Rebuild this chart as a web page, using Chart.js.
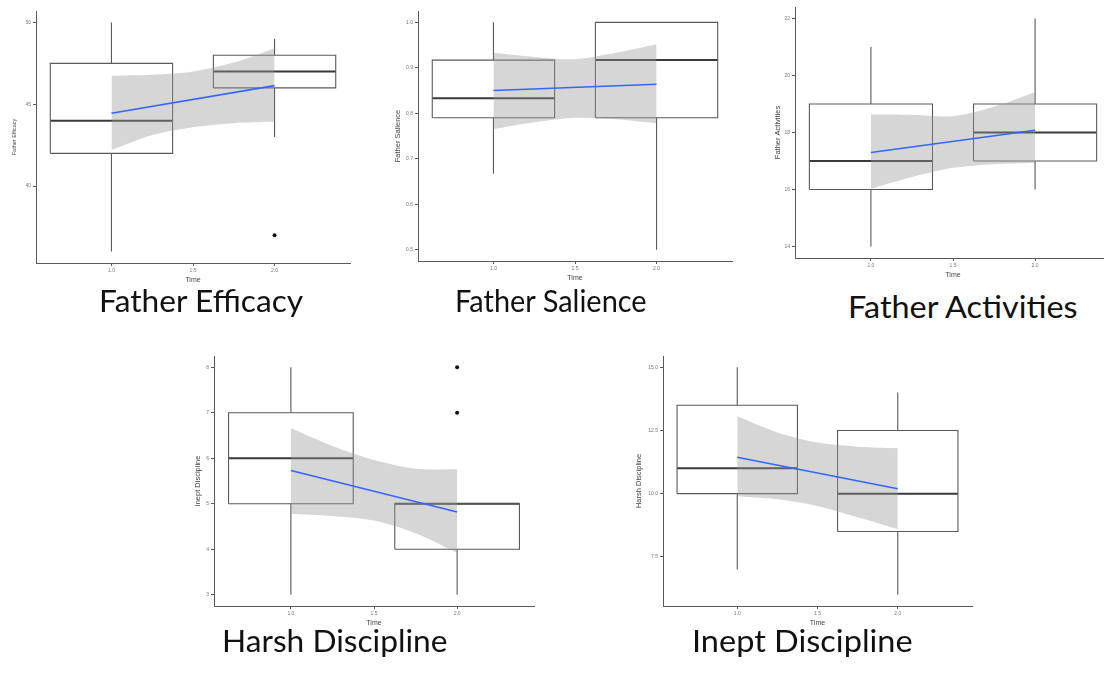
<!DOCTYPE html>
<html>
<head>
<meta charset="utf-8">
<script src="https://cdn.jsdelivr.net/npm/chart.js@4.4.0/dist/chart.umd.min.js"></script>
<style>
  html, body { margin: 0; padding: 0; background: #fff; overflow: hidden; width: 1104px; height: 673px; }
  #wrap { position: relative; width: 1104px; height: 673px; }
  #wrap canvas { position: absolute; }
  .cap { position: absolute; font-family: Lato, "Open Sans", sans-serif; font-size: 30px; line-height: 30px;
         color: #111; white-space: nowrap; transform-origin: left top; }
</style>
</head>
<body>
<div id="wrap"></div>
<script>
const panelNames = ["Father Efficacy", "Father Salience", "Father Activities", "Harsh Discipline", "Inept Discipline"];
const yTitles = ["Father Efficacy", "Father Salience", "Father Activities", "Inept Discipline", "Harsh Discipline"];
const xTitle = "Time";
const times = [1, 2];
const xTicks = [1.0, 1.5, 2.0];
const xRange = [0.5375, 2.4625];

const yTicks = [[40, 45, 50], [0.5, 0.6, 0.7, 0.8, 0.9, 1.0], [14, 16, 18, 20, 22], [3, 4, 5, 6, 7, 8], [7.5, 10, 12.5, 15]];
const yDigits = [0, 1, 0, 0, 1];
const yRanges = [[35.3, 50.7], [0.475, 1.025], [13.6, 22.4], [2.75, 8.25], [5.55, 15.45]];

const q1 = [[42, 46], [0.79, 0.79], [16, 17], [5, 4], [10, 8.5]];
const medians = [[44, 47], [0.833, 0.917], [17, 18], [6, 5], [11, 10]];
const q3 = [[47.5, 48], [0.917, 1.0], [19, 19], [7, 5], [13.5, 12.5]];
const whiskerLow = [[36, 43], [0.667, 0.5], [14, 16], [3, 3], [7, 6]];
const whiskerHigh = [[50, 49], [1.0, 1.0], [21, 22], [8, 5], [15, 14]];
const outliers = [[[2, 37]], [], [], [[2, 7], [2, 8]], []];

const fitY = [[44.45, 46.14], [0.85, 0.864], [17.3, 18.08], [5.73, 4.82], [11.44, 10.19]];
const bandX = [1, 1.25, 1.5, 1.75, 2];
const bandUpper = [
  [46.74, 46.8, 47.0, 47.55, 48.43],
  [0.933, 0.924, 0.919, 0.933, 0.952],
  [18.63, 18.62, 18.57, 18.9, 19.41],
  [6.66, 6.27, 5.96, 5.77, 5.76],
  [13.06, 12.42, 12.02, 11.86, 11.8]
];
const bandLower = [
  [42.2, 43.12, 43.6, 43.84, 43.94],
  [0.765, 0.78, 0.79, 0.787, 0.778],
  [16.03, 16.44, 16.76, 16.89, 16.93],
  [4.78, 4.73, 4.63, 4.35, 3.92],
  [9.9, 9.78, 9.51, 9.06, 8.59]
];

// plot area of each panel on the page: left, top, width, height, gap to y title, y title size
const areas = [
  [35.6, 11.3, 313.8, 251.5, 22, 5.5],
  [418.3, 11, 313.8, 250, 20, 7.5],
  [795, 6.9, 316, 250.5, 17, 7.5],
  [214.2, 356, 319.6, 250, 16, 7.5],
  [663.1, 356.4, 308.8, 249.6, 24, 7.5]
];
// caption centre x, baseline, width
const captions = [[201, 312, 204], [551, 312, 192], [963, 318, 230], [335, 652, 226], [802, 652, 221]];

const AW = 32, PT = 6, PR = 4, XH = 24;
const boxHalf = 0.375;
const smallFont = "'Liberation Sans', Arial, sans-serif";
const wrap = document.getElementById("wrap");

function seg(a, b, color, width, order) {
  return {
    type: "line", data: [a, b], borderColor: color, borderWidth: width,
    pointRadius: 0, tension: 0, fill: false, order: order
  };
}

function makeDatasets(i) {
  const ds = [];
  ds.push({
    type: "line",
    data: times.map((t, k) => ({x: t, y: fitY[i][k]})),
    borderColor: "#3366FF", borderWidth: 1.6, pointRadius: 0, fill: false, order: 0
  });
  ds.push({
    type: "line",
    data: outliers[i].map(p => ({x: p[0], y: p[1]})),
    showLine: false, pointRadius: 2, pointBackgroundColor: "#111", pointBorderWidth: 0, order: 0
  });
  const upperIndex = ds.length;
  ds.push({
    type: "line",
    data: bandX.map((x, k) => ({x: x, y: bandUpper[i][k]})),
    borderWidth: 0, pointRadius: 0, tension: 0.3,
    fill: {target: upperIndex + 1}, backgroundColor: "rgba(153,153,153,0.4)", order: 1
  });
  ds.push({
    type: "line",
    data: bandX.map((x, k) => ({x: x, y: bandLower[i][k]})),
    borderWidth: 0, pointRadius: 0, tension: 0.3, fill: false, order: 1
  });
  times.forEach((t, j) => {
    const a = t - boxHalf, b = t + boxHalf;
    ds.push({
      type: "line",
      data: [{x: a, y: q1[i][j]}, {x: b, y: q1[i][j]}, {x: b, y: q3[i][j]}, {x: a, y: q3[i][j]}, {x: a, y: q1[i][j]}],
      borderColor: "#5a5a5a", borderWidth: 1.1, pointRadius: 0, tension: 0, fill: false, order: 2
    });
    ds.push(seg({x: a, y: medians[i][j]}, {x: b, y: medians[i][j]}, "#3a3a3a", 2, 2));
    if (whiskerHigh[i][j] > q3[i][j]) {
      ds.push(seg({x: t, y: q3[i][j]}, {x: t, y: whiskerHigh[i][j]}, "#5a5a5a", 1.1, 3));
    }
    if (whiskerLow[i][j] < q1[i][j]) {
      ds.push(seg({x: t, y: whiskerLow[i][j]}, {x: t, y: q1[i][j]}, "#5a5a5a", 1.1, 3));
    }
  });
  return ds;
}

function makeChart(i) {
  const [L, T, W, H, gap, yFont] = areas[i];
  const canvas = document.createElement("canvas");
  const cw = Math.round(AW + W + PR), ch = Math.round(PT + H + XH);
  canvas.width = cw;
  canvas.height = ch;
  canvas.style.width = cw + "px";
  canvas.style.height = ch + "px";
  canvas.style.left = (L - AW) + "px";
  canvas.style.top = (T - PT) + "px";
  wrap.appendChild(canvas);

  const axisColor = "#5a5a5a";
  new Chart(canvas.getContext("2d"), {
    type: "line",
    data: {datasets: makeDatasets(i)},
    options: {
      responsive: false,
      animation: false,
      layout: {padding: {top: PT, right: PR, left: 0, bottom: 0}},
      plugins: {legend: {display: false}, tooltip: {enabled: false}},
      scales: {
        x: {
          type: "linear", min: xRange[0], max: xRange[1],
          afterBuildTicks: s => { s.ticks = xTicks.map(v => ({value: v})); },
          afterFit: s => { s.height = XH; },
          grid: {drawOnChartArea: false, drawTicks: true, tickLength: 3, color: axisColor},
          border: {display: true, color: axisColor, width: 1},
          ticks: {
            font: {size: 5, family: smallFont}, color: "#777", padding: 2,
            maxRotation: 0, autoSkip: false, callback: v => Number(v).toFixed(1)
          },
          title: {
            display: true, text: xTitle, color: "#444",
            font: {size: 7, family: smallFont}, padding: {top: 0, bottom: 3}
          }
        },
        y: {
          type: "linear", min: yRanges[i][0], max: yRanges[i][1],
          afterBuildTicks: s => { s.ticks = yTicks[i].map(v => ({value: v})); },
          afterFit: s => { s.width = AW; },
          grid: {drawOnChartArea: false, drawTicks: true, tickLength: 3, color: axisColor},
          border: {display: true, color: axisColor, width: 1},
          ticks: {
            font: {size: 5, family: smallFont}, color: "#777", padding: 2,
            autoSkip: false, callback: v => Number(v).toFixed(yDigits[i])
          },
          title: {
            display: true, text: yTitles[i], color: "#444",
            font: {size: yFont, family: smallFont},
            padding: {top: Math.max(0, AW - gap - yFont * 0.6), bottom: 0}
          }
        }
      }
    }
  });
}

for (let i = 0; i < panelNames.length; i++) {
  makeChart(i);
}

// big captions under each panel
captions.forEach((c, i) => {
  const d = document.createElement("div");
  d.className = "cap";
  d.textContent = panelNames[i];
  wrap.appendChild(d);
  const w = d.offsetWidth;
  const k = c[2] / w;
  d.style.left = (c[0] - c[2] / 2) + "px";
  d.style.top = (c[1] - 30 * 0.887) + "px";
  d.style.transform = "scaleX(" + k.toFixed(3) + ")";
});
</script>
</body>
</html>
